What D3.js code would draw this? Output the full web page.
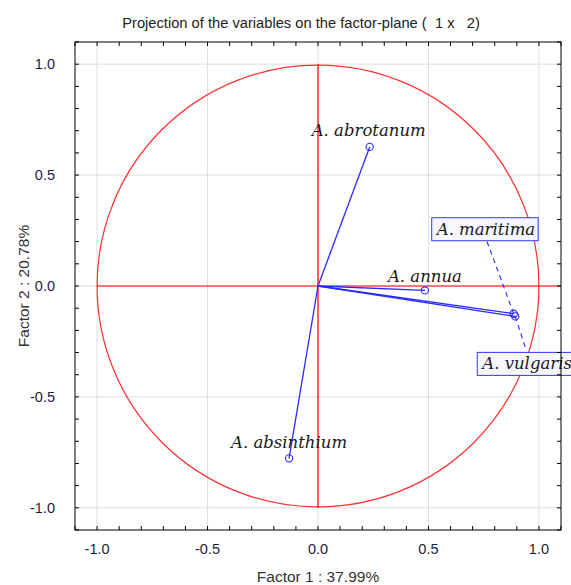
<!DOCTYPE html>
<html>
<head>
<meta charset="utf-8">
<script src="https://cdn.jsdelivr.net/npm/d3@7"></script>
<style>
  body { margin: 0; background: #fff; }
  svg { display: block; }
</style>
</head>
<body>
<div id="chart"></div>
<script>
// variables projected on factor 1 x factor 2
var varNames = ["A. abrotanum", "A. annua", "A. maritima", "A. vulgaris", "A. absinthium"];
var factor1 = [0.234, 0.484, 0.886, 0.893, -0.131];
var factor2 = [0.627, -0.020, -0.125, -0.137, -0.777];
var tickValues = [-1.0, -0.5, 0.0, 0.5, 1.0];

var width = 571, height = 585;
var margin = {top: 42, right: 10, bottom: 55, left: 75};

var svg = d3.select("#chart").append("svg")
  .attr("width", width)
  .attr("height", height);

var x = d3.scaleLinear().domain([-1.1, 1.1]).range([margin.left, width - margin.right]);
var y = d3.scaleLinear().domain([-1.1, 1.1]).range([height - margin.bottom, margin.top]);

var plotW = width - margin.right - margin.left;
var plotH = height - margin.bottom - margin.top;

svg.append("defs").append("clipPath").attr("id", "clip")
  .append("rect")
  .attr("x", margin.left).attr("y", margin.top)
  .attr("width", plotW).attr("height", plotH);

// grid
var grid = svg.append("g");
grid.selectAll(".gx").data(tickValues).enter().append("line")
  .attr("x1", function(d) { return x(d); }).attr("x2", function(d) { return x(d); })
  .attr("y1", margin.top).attr("y2", height - margin.bottom)
  .style("stroke", "#dedede").style("stroke-width", 1);
grid.selectAll(".gy").data(tickValues).enter().append("line")
  .attr("y1", function(d) { return y(d); }).attr("y2", function(d) { return y(d); })
  .attr("x1", margin.left).attr("x2", width - margin.right)
  .style("stroke", "#dedede").style("stroke-width", 1);

var plot = svg.append("g").attr("clip-path", "url(#clip)");

// unit circle and axes in red
plot.append("circle")
  .attr("cx", x(0)).attr("cy", y(0))
  .attr("r", x(1) - x(0))
  .style("fill", "none").style("stroke", "#ff3030").style("stroke-width", 1.2);
plot.append("line")
  .attr("x1", x(-1)).attr("x2", x(1.1))
  .attr("y1", y(0)).attr("y2", y(0))
  .style("stroke", "#ff0000").style("stroke-width", 1.2);
plot.append("line")
  .attr("x1", x(0)).attr("x2", x(0))
  .attr("y1", y(1)).attr("y2", y(-1))
  .style("stroke", "#ff0000").style("stroke-width", 1.2);

var pts = varNames.map(function(n, i) { return {name: n, f1: factor1[i], f2: factor2[i]}; });

// vectors from the origin
plot.selectAll(".vec").data(pts).enter().append("line")
  .attr("x1", x(0)).attr("y1", y(0))
  .attr("x2", function(d) { return x(d.f1); })
  .attr("y2", function(d) { return y(d.f2); })
  .style("stroke", "#2a2aff").style("stroke-width", 1.3);

plot.selectAll(".pt").data(pts).enter().append("circle")
  .attr("cx", function(d) { return x(d.f1); })
  .attr("cy", function(d) { return y(d.f2); })
  .attr("r", 3.6)
  .style("fill", "none").style("stroke", "#2a2aff").style("stroke-width", 1.1);

// label placement (pixel offsets from the point), boxed ones get a dashed leader
var labelLayout = {
  "A. abrotanum":  {dx: -58, dy: -11, box: false},
  "A. annua":      {dx: -37, dy: -8,  box: false},
  "A. maritima":   {dx: -77, dy: -79, box: true, lx: -27, ly: -73},
  "A. vulgaris":   {dx: -33, dy: 53,  box: true, lx: 11, ly: 34},
  "A. absinthium": {dx: -58, dy: -10, box: false}
};

var labels = svg.append("g");
pts.forEach(function(d) {
  var L = labelLayout[d.name];
  var px = x(d.f1), py = y(d.f2);
  if (L.box) {
    labels.append("line")
      .attr("x1", px).attr("y1", py)
      .attr("x2", px + L.lx).attr("y2", py + L.ly)
      .style("stroke", "#2a2aff").style("stroke-width", 1.1)
      .style("stroke-dasharray", "5,4");
  }
  var g = labels.append("g");
  var t = g.append("text")
    .attr("x", px + L.dx).attr("y", py + L.dy)
    .style("font-family", "'DejaVu Serif', serif")
    .style("font-style", "italic")
    .style("font-size", "16.5px")
    .style("fill", "#1a1a1a")
    .text(d.name);
  if (L.box) {
    var bb = t.node().getBBox();
    g.insert("rect", "text")
      .attr("x", bb.x - 3).attr("y", bb.y - 2)
      .attr("width", bb.width + 6).attr("height", bb.height + 4)
      .style("fill", "#f7f7ff").style("stroke", "#3333ff").style("stroke-width", 1);
  }
});

// frame and inward ticks
svg.append("rect")
  .attr("x", margin.left).attr("y", margin.top)
  .attr("width", plotW).attr("height", plotH)
  .style("fill", "none").style("stroke", "#000").style("stroke-width", 1);

var minor = d3.range(-11, 12).map(function(i) { return i / 10; });
var tk = svg.append("g").style("stroke", "#000").style("stroke-width", 1);
minor.forEach(function(v) {
  tk.append("line").attr("x1", x(v)).attr("x2", x(v)).attr("y1", margin.top).attr("y2", margin.top + 4);
  tk.append("line").attr("x1", x(v)).attr("x2", x(v)).attr("y1", height - margin.bottom).attr("y2", height - margin.bottom - 4);
  tk.append("line").attr("y1", y(v)).attr("y2", y(v)).attr("x1", margin.left).attr("x2", margin.left + 4);
  tk.append("line").attr("y1", y(v)).attr("y2", y(v)).attr("x1", width - margin.right).attr("x2", width - margin.right - 4);
});

// tick labels
var fmt = d3.format(".1f");
svg.append("g").selectAll("text").data(tickValues).enter().append("text")
  .attr("x", function(d) { return x(d); })
  .attr("y", height - margin.bottom + 24)
  .attr("text-anchor", "middle")
  .style("font-family", "'Liberation Sans', Arial, sans-serif")
  .style("font-size", "14.5px")
  .style("fill", "#1c1c40")
  .text(function(d) { return fmt(d).replace("−", "-"); });
svg.append("g").selectAll("text").data(tickValues).enter().append("text")
  .attr("x", margin.left - 20)
  .attr("y", function(d) { return y(d) + 5; })
  .attr("text-anchor", "end")
  .style("font-family", "'Liberation Sans', Arial, sans-serif")
  .style("font-size", "14.5px")
  .style("fill", "#1c1c40")
  .text(function(d) { return fmt(d).replace("−", "-"); });

// titles
svg.append("text")
  .attr("x", 301).attr("y", 28)
  .attr("text-anchor", "middle")
  .style("font-family", "'Liberation Sans', Arial, sans-serif")
  .style("font-size", "14.7px")
  .style("fill", "#222")
  .attr("xml:space", "preserve")
  .text("Projection of the variables on the factor-plane (  1 x   2)");

svg.append("text")
  .attr("x", x(0)).attr("y", 582)
  .attr("text-anchor", "middle")
  .style("font-family", "'Liberation Sans', Arial, sans-serif")
  .style("font-size", "15.5px")
  .style("fill", "#333")
  .text("Factor 1 : 37.99%");

svg.append("text")
  .attr("transform", "translate(29," + y(0) + ") rotate(-90)")
  .attr("text-anchor", "middle")
  .style("font-family", "'Liberation Sans', Arial, sans-serif")
  .style("font-size", "15.5px")
  .style("fill", "#333")
  .text("Factor 2 : 20.78%");
</script>
</body>
</html>
